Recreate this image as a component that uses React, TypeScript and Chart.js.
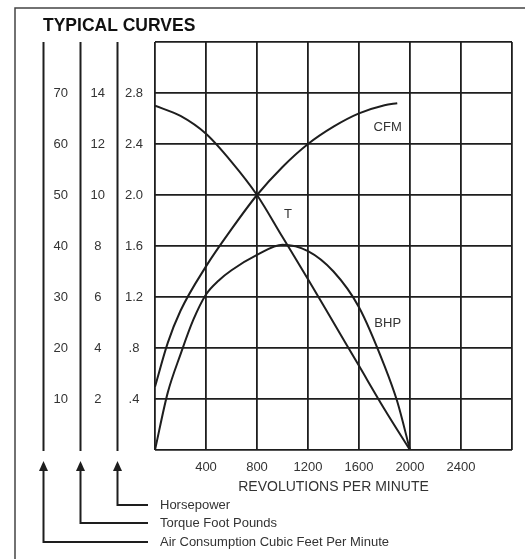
import React, { useEffect, useRef } from 'react';
import { Chart, registerables } from 'chart.js';

Chart.register(...registerables);

const FONT = '"Liberation Sans", Arial, Helvetica, sans-serif';
const INK = '#1e1e1e';
const TEXT = '#333333';

const chartTitle = 'TYPICAL CURVES';
const xAxisTitle = 'REVOLUTIONS PER MINUTE';

// tick labels
const xTicks = [400, 800, 1200, 1600, 2000, 2400];
const hpTicks = [0.4, 0.8, 1.2, 1.6, 2.0, 2.4, 2.8];
const hpTickLabels = ['.4', '.8', '1.2', '1.6', '2.0', '2.4', '2.8'];
const torqueTicks = [2, 4, 6, 8, 10, 12, 14];
const cfmTicks = [10, 20, 30, 40, 50, 60, 70];

// series
const torqueRpm = [0, 200, 400, 600, 800, 1000, 1200, 1400, 1600, 1800, 2000];
const torqueValues = [13.5, 13.1, 12.4, 11.3, 10.0, 8.35, 6.7, 5.0, 3.3, 1.6, 0];

const cfmRpm = [0, 100, 200, 400, 600, 800, 1000, 1200, 1400, 1600, 1800, 1900];
const cfmValues = [12.4, 21, 27.3, 36, 43.3, 50, 55.5, 60, 63.4, 66, 67.6, 68];

const bhpRpm = [0, 100, 200, 300, 400, 500, 600, 800, 1000, 1200, 1400, 1600, 1800, 1900, 2000];
const bhpValues = [0, 0.45, 0.75, 1.02, 1.22, 1.33, 1.41, 1.53, 1.61, 1.56, 1.4, 1.12, 0.66, 0.38, 0];

// curve name labels (in data units of their axis)
const curveLabels = [
  { text: 'CFM', axis: 'cfm', rpm: 1825, value: 63.3 },
  { text: 'T', axis: 'tq', rpm: 1042, value: 9.25 },
  { text: 'BHP', axis: 'hp', rpm: 1825, value: 0.99 },
];

// legend rows beneath the chart
const legendRows = [
  { axis: 'hp', text: 'Horsepower' },
  { axis: 'tq', text: 'Torque Foot Pounds' },
  { axis: 'cfm', text: 'Air Consumption Cubic Feet Per Minute' },
];

const toPoints = (xs: number[], ys: number[]) => xs.map((x, i) => ({ x, y: ys[i] }));

const labelFrom = (ticks: number[], labels: string[]) => (v: any) => {
  const i = ticks.findIndex((t) => Math.abs(t - Number(v)) < 1e-6);
  return i >= 0 ? labels[i] : '';
};

const decorPlugin = {
  id: 'decor',
  beforeDraw(chart: any) {
    const { ctx, width, height } = chart;
    ctx.save();
    ctx.fillStyle = '#ffffff';
    ctx.fillRect(0, 0, width, height);
    ctx.restore();
  },
  afterDraw(chart: any) {
    const { ctx, chartArea, scales } = chart;
    ctx.save();
    // outer frame (left + top)
    ctx.strokeStyle = '#444';
    ctx.lineWidth = 1.5;
    ctx.beginPath();
    ctx.moveTo(15, chart.height);
    ctx.lineTo(15, 8);
    ctx.lineTo(chart.width, 8);
    ctx.stroke();

    // axis rails, arrows, legend leaders
    const bottom = chartArea.bottom;
    const legendY = [bottom + 55, bottom + 73, bottom + 92];
    ctx.strokeStyle = INK;
    ctx.fillStyle = INK;
    ctx.lineWidth = 2;
    legendRows.forEach((row, i) => {
      const x = Math.round(scales[row.axis].left) + 0.5;
      ctx.beginPath();
      ctx.moveTo(x, chartArea.top);
      ctx.lineTo(x, bottom + 1);
      ctx.stroke();
      const tip = bottom + 11;
      ctx.beginPath();
      ctx.moveTo(x, tip);
      ctx.lineTo(x - 4.5, tip + 10);
      ctx.lineTo(x + 4.5, tip + 10);
      ctx.closePath();
      ctx.fill();
      ctx.beginPath();
      ctx.moveTo(x, tip + 8);
      ctx.lineTo(x, legendY[i]);
      ctx.lineTo(148, legendY[i]);
      ctx.stroke();
      ctx.fillStyle = TEXT;
      ctx.font = `13px ${FONT}`;
      ctx.textAlign = 'left';
      ctx.textBaseline = 'middle';
      ctx.fillText(row.text, 160, legendY[i]);
      ctx.fillStyle = INK;
    });

    // curve names
    ctx.fillStyle = TEXT;
    ctx.font = `13px ${FONT}`;
    ctx.textAlign = 'center';
    ctx.textBaseline = 'middle';
    curveLabels.forEach((l) => {
      const px = scales.x.getPixelForValue(l.rpm);
      const py = scales[l.axis].getPixelForValue(l.value);
      ctx.fillText(l.text, px, py);
    });
    ctx.restore();
  },
};

export default function App() {
  const ref = useRef<HTMLCanvasElement | null>(null);

  useEffect(() => {
    if (!ref.current) return;
    const lineStyle = {
      borderColor: INK,
      borderWidth: 2,
      pointRadius: 0,
      fill: false,
      cubicInterpolationMode: 'monotone' as const,
    };
    const chart = new Chart(ref.current, {
      type: 'line',
      data: {
        datasets: [
          { label: 'Torque', data: toPoints(torqueRpm, torqueValues), yAxisID: 'tq', ...lineStyle },
          { label: 'CFM', data: toPoints(cfmRpm, cfmValues), yAxisID: 'cfm', ...lineStyle },
          { label: 'BHP', data: toPoints(bhpRpm, bhpValues), yAxisID: 'hp', ...lineStyle },
        ],
      },
      options: {
        responsive: false,
        animation: false,
        events: [],
        layout: { padding: { left: 43, right: 13, top: 8, bottom: 63 } },
        plugins: {
          legend: { display: false },
          tooltip: { enabled: false },
          title: {
            display: true,
            text: chartTitle,
            align: 'start',
            color: '#111',
            font: { family: FONT, size: 17.5, weight: 'bold' },
            padding: { top: 7.7, bottom: 5.3 },
          },
        },
        scales: {
          x: {
            type: 'linear',
            min: 0,
            max: 2800,
            ticks: {
              stepSize: 400,
              autoSkip: false,
              maxRotation: 0,
              padding: 10,
              color: TEXT,
              font: { family: FONT, size: 13 },
              callback: (v: any) => (xTicks.includes(Number(v)) ? String(v) : ''),
            },
            grid: { color: INK, lineWidth: 1.8, drawTicks: false },
            border: { display: false },
            title: {
              display: true,
              text: xAxisTitle,
              color: TEXT,
              font: { family: FONT, size: 14 },
              padding: { top: 0, bottom: 0 },
            },
            afterFit: (s: any) => {
              s.height = 46;
            },
          },
          hp: {
            type: 'linear',
            position: 'left',
            weight: 1,
            min: 0,
            max: 3.2,
            ticks: {
              stepSize: 0.4,
              crossAlign: 'center',
              padding: 12,
              color: TEXT,
              font: { family: FONT, size: 13 },
              callback: labelFrom(hpTicks, hpTickLabels),
            },
            grid: { color: INK, lineWidth: 1.8, drawTicks: false },
            border: { display: false },
            afterFit: (s: any) => {
              s.width = 38;
            },
          },
          tq: {
            type: 'linear',
            position: 'left',
            weight: 2,
            min: 0,
            max: 16,
            ticks: {
              stepSize: 2,
              crossAlign: 'center',
              padding: 12,
              color: TEXT,
              font: { family: FONT, size: 13 },
              callback: labelFrom(torqueTicks, torqueTicks.map(String)),
            },
            grid: { display: false, drawTicks: false },
            border: { display: false },
            afterFit: (s: any) => {
              s.width = 37;
            },
          },
          cfm: {
            type: 'linear',
            position: 'left',
            weight: 3,
            min: 0,
            max: 80,
            ticks: {
              stepSize: 10,
              crossAlign: 'center',
              padding: 12,
              color: TEXT,
              font: { family: FONT, size: 13 },
              callback: labelFrom(cfmTicks, cfmTicks.map(String)),
            },
            grid: { display: false, drawTicks: false },
            border: { display: false },
            afterFit: (s: any) => {
              s.width = 37;
            },
          },
        },
      } as any,
      plugins: [decorPlugin],
    });
    return () => chart.destroy();
  }, []);

  return (
    <div style={{ position: 'absolute', left: 0, top: 0, width: 525, height: 559 }}>
      <canvas ref={ref} width={525} height={559} style={{ display: 'block' }} />
    </div>
  );
}
